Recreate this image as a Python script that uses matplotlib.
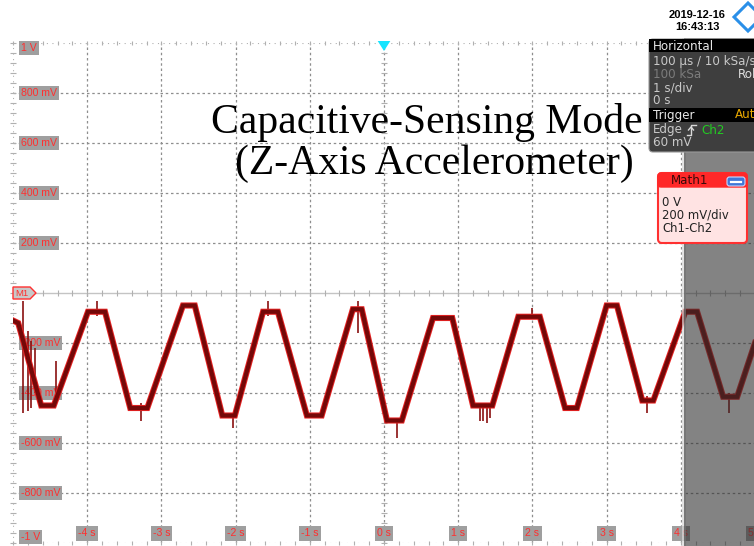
import matplotlib
matplotlib.use("Agg")
import matplotlib.pyplot as plt
import matplotlib.patheffects as pe
from matplotlib.patches import Rectangle, Polygon, FancyBboxPatch
from matplotlib.transforms import Affine2D

# ---- trace data (Math1 = Ch1 - Ch2), vertices of the triangle wave ----
wave_t = [-5.00, -4.93, -4.62, -4.45, -3.99, -3.76, -3.42, -3.19, -2.71, -2.55,
          -2.18, -2.01, -1.63, -1.43, -1.04, -0.84, -0.42, -0.30, 0.04, 0.24,
          0.66, 0.92, 1.20, 1.46, 1.81, 2.10, 2.44, 2.60, 3.00, 3.14,
          3.48, 3.63, 4.06, 4.22, 4.57, 4.76, 5.00]
wave_v = [-0.11, -0.12, -0.45, -0.45, -0.075, -0.075, -0.46, -0.46, -0.05, -0.05,
          -0.49, -0.49, -0.075, -0.075, -0.49, -0.49, -0.065, -0.065, -0.51, -0.51,
          -0.10, -0.10, -0.45, -0.45, -0.095, -0.095, -0.46, -0.46, -0.05, -0.05,
          -0.43, -0.43, -0.075, -0.075, -0.415, -0.415, -0.20]

# glitches on the trace: time, lower and upper voltage
spike_t = [-4.87, -4.80, -4.76, -4.71, -4.42, -3.87, -3.27, -2.04, -1.56, -0.35,
           0.17, 1.30, 1.34, 1.39, 1.43, 2.00, 3.55, 4.65]
spike_lo = [-0.48, -0.47, -0.46, -0.40, -0.40, -0.09, -0.51, -0.54, -0.09, -0.16,
            -0.58, -0.51, -0.51, -0.52, -0.50, -0.10, -0.48, -0.48]
spike_hi = [-0.03, -0.15, -0.19, -0.22, -0.27, -0.03, -0.44, -0.48, -0.03, -0.03,
            -0.52, -0.44, -0.44, -0.44, -0.44, -0.06, -0.41, -0.40]

# ---- axis labels ----
volt_ticks = [1.0, 0.8, 0.6, 0.4, 0.2, -0.2, -0.4, -0.6, -0.8, -1.0]
volt_labels = ["1 V", "800 mV", "600 mV", "400 mV", "200 mV",
               "-200 mV", "-400 mV", "-600 mV", "-800 mV", "-1 V"]
time_ticks = [-4, -3, -2, -1, 0, 1, 2, 3, 4, 5]
time_labels = ["-4 s", "-3 s", "-2 s", "-1 s", "0 s", "1 s", "2 s", "3 s", "4 s", "5 s"]

W, H = 754, 546
fig = plt.figure(figsize=(W / 100, H / 100), dpi=100)
fig.patch.set_facecolor("white")
# pixel (top-left origin) -> figure transform for the instrument chrome
PX = Affine2D().scale(1 / W, -1 / H).translate(0, 1) + fig.transFigure

ax = fig.add_axes([13 / W, 3 / H, 742 / W, 500 / H])
ax.set_xlim(-5, 5)
ax.set_ylim(-1, 1)
ax.axis("off")

grid_col = "#8e8e8e"
for t in range(-4, 5):
    ax.axvline(t, color=grid_col, lw=0.9, ls=(0, (2.0, 2.2)), zorder=1)
for v in [0.8, 0.6, 0.4, 0.2, -0.2, -0.4, -0.6, -0.8]:
    ax.axhline(v, color=grid_col, lw=0.9, ls=(0, (2.0, 2.2)), zorder=1)
ax.axhline(0, color="#c4c4c4", lw=1.0, zorder=1)
for v in (1.0, -1.0):
    ax.axhline(v, color="#b0b0b0", lw=0.8, ls=(0, (1, 4)), zorder=1)
ax.axvline(-5, color="#b0b0b0", lw=0.8, ls=(0, (1, 4)), zorder=1)

# minor ticks along the edges and centre axes
minor_v = [i * 0.04 for i in range(-25, 26)]
minor_t = [i * 0.2 for i in range(-25, 26)]
ax.plot([-5] * len(minor_v), minor_v, ls="none", marker="_", ms=4, mew=0.8,
        color="#b0b0b0", zorder=1, clip_on=False)
ax.plot([0] * len(minor_v), minor_v, ls="none", marker="_", ms=5, mew=0.8,
        color="#b0b0b0", zorder=1)
ax.plot(minor_t, [0] * len(minor_t), ls="none", marker="|", ms=5, mew=0.8,
        color="#b0b0b0", zorder=1)
ax.plot(minor_t, [1.0] * len(minor_t), ls="none", marker="|", ms=3, mew=0.8,
        color="#b0b0b0", zorder=1, clip_on=False)
ax.plot(minor_t, [-1.0] * len(minor_t), ls="none", marker="|", ms=3, mew=0.8,
        color="#b0b0b0", zorder=1, clip_on=False)

label_red = "#ff2f2f"
label_font = "Liberation Sans"
label_box = dict(boxstyle="square,pad=0.2", fc="#9f9f9f", ec="none")
for v, lab in zip(volt_ticks, volt_labels):
    yv = v
    if v == 1.0:
        yv = 0.98
    elif v == -1.0:
        yv = -0.975
    ax.text(-4.895, yv, lab, color=label_red, fontsize=7.6, fontfamily=label_font,
            ha="left", va="center", bbox=label_box, zorder=3, clip_on=False)
for t, lab in zip(time_ticks, time_labels):
    ax.text(t, -0.962, lab, color=label_red, fontsize=7.6, fontfamily=label_font,
            ha="center", va="center", bbox=label_box, zorder=3, clip_on=False)

# M1 reference marker on the 0 V line
m1 = Polygon([(-5.0, 0.024), (-4.77, 0.024), (-4.69, 0.0), (-4.77, -0.024), (-5.0, -0.024)],
             closed=True, fc="#c8c8c8", ec="#ff3030", lw=1.0, zorder=3, clip_on=False)
ax.add_patch(m1)
ax.text(-4.97, 0.0, "M1", color=label_red, fontsize=6.8, fontfamily=label_font,
        ha="left", va="center", zorder=3)

# trigger position marker
ax.add_patch(Polygon([(-0.085, 1.008), (0.085, 1.008), (0.0, 0.968)], closed=True,
                     fc="#16e4ff", ec="none", zorder=3, clip_on=False))

# trace
ax.vlines(spike_t, spike_lo, spike_hi, color="#8a1010", lw=1.2, zorder=4)
ax.plot(wave_t, wave_v, color="#740808", lw=3.0, solid_joinstyle="miter",
        path_effects=[pe.Stroke(linewidth=4.4, foreground="#e62222"), pe.Normal()],
        zorder=5)

# dimmed region past the end of the acquisition
ax.add_patch(Rectangle((4.015, -1.02), 0.06, 2.04, fc="#d8d8d8", ec="none",
                       alpha=0.7, zorder=6, clip_on=False))
ax.add_patch(Rectangle((4.04, -1.02), 1.1, 2.04, fc="#303030", ec="none",
                       alpha=0.6, zorder=6, clip_on=False))

# title
fig.text(427 / W, 1 - 122 / H, "Capacitive-Sensing Mode", fontfamily="Liberation Serif",
         fontsize=30, ha="center", va="center", color="black")
fig.text(434 / W, 1 - 164 / H, "(Z-Axis Accelerometer)", fontfamily="Liberation Serif",
         fontsize=30, ha="center", va="center", color="black")

# date / time and logo
fig.text(697 / W, 1 - 15 / H, "2019-12-16", fontfamily="Liberation Sans", fontweight="bold",
         fontsize=8, ha="center", va="center")
fig.text(697 / W, 1 - 27 / H, "16:43:13", fontfamily="Liberation Sans", fontweight="bold",
         fontsize=8, ha="center", va="center")
fig.add_artist(Polygon([(748, 3), (762, 17), (748, 31), (734, 17)], closed=True,
                       fc="white", ec="#2a8fe8", lw=2.2, transform=PX, zorder=10))
fig.text(745 / W, 1 - 13 / H, "R", color="#2a8fe8", fontsize=6, fontweight="bold",
         rotation=-45, ha="center", va="center")
fig.text(751 / W, 1 - 22 / H, "S", color="#2a8fe8", fontsize=6, fontweight="bold",
         rotation=-45, ha="center", va="center")

# Horizontal / Trigger panel
fig.add_artist(FancyBboxPatch((649, 39), 120, 113, boxstyle="round,pad=0,rounding_size=4",
                              fc="#3e3e3e", ec="#9a9a9a", lw=0.8, transform=PX, zorder=10))
fig.add_artist(Rectangle((649, 39), 120, 13, fc="black", ec="none", transform=PX, zorder=11))
fig.add_artist(Rectangle((649, 108), 120, 14, fc="black", ec="none", transform=PX, zorder=11))
panel_rows = [
    ("Horizontal", 46, "#e8e8e8"),
    ("100 µs / 10 kSa/s", 61, "#c9c9c9"),
    ("100 kSa", 74, "#7c7c7c"),
    ("1 s/div", 88, "#c9c9c9"),
    ("0 s", 101, "#c9c9c9"),
    ("Trigger", 115, "#e8e8e8"),
    ("Edge", 130, "#c9c9c9"),
    ("60 mV", 143, "#c9c9c9"),
]
for txt, yy, col in panel_rows:
    fig.text(653 / W, 1 - yy / H, txt, color=col, fontsize=8.6, ha="left", va="center",
             zorder=12)
fig.text(738 / W, 1 - 74 / H, "Roll", color="#e0e0e0", fontsize=8.6, ha="left",
         va="center", zorder=12)
fig.text(735 / W, 1 - 115 / H, "Auto", color="#e8a800", fontsize=8.6, ha="left",
         va="center", zorder=12)
fig.text(701 / W, 1 - 130 / H, "Ch2", color="#22cc22", fontsize=8.6, ha="left",
         va="center", zorder=12)
# rising-edge symbol
edge_x = [687, 691, 691, 696]
edge_y = [135, 135, 125, 125]
fig.add_artist(plt.Line2D(edge_x, edge_y, color="#d8d8d8", lw=1.0, transform=PX, zorder=12))
fig.add_artist(plt.Line2D([688.5, 691, 693.5], [130, 127, 130], color="#d8d8d8", lw=1.0,
                          transform=PX, zorder=12))

# Math1 channel box
fig.add_artist(FancyBboxPatch((658, 173), 89, 70, boxstyle="round,pad=0,rounding_size=4",
                              fc="#ffe3e3", ec="#ff3030", lw=1.5, transform=PX, zorder=10))
fig.add_artist(FancyBboxPatch((658, 173), 89, 14, boxstyle="round,pad=0,rounding_size=3",
                              fc="#ff2828", ec="#ff2828", lw=1.0, transform=PX, zorder=11))
fig.text(690 / W, 1 - 181 / H, "Math1", color="#3a0a0a", fontsize=8.6, ha="center",
         va="center", zorder=12)
fig.add_artist(FancyBboxPatch((727, 177), 18, 9, boxstyle="round,pad=0,rounding_size=2.5",
                              fc="#3f78d8", ec="#c8d8ff", lw=0.8, transform=PX, zorder=12))
fig.add_artist(plt.Line2D([731, 741], [181.5, 181.5], color="white", lw=1.6, transform=PX,
                          zorder=13))
for txt, yy in [("0 V", 202), ("200 mV/div", 215), ("Ch1-Ch2", 228)]:
    fig.text(662 / W, 1 - yy / H, txt, color="#222222", fontsize=8.4, ha="left",
             va="center", zorder=12)

fig.savefig("out.png", dpi=100)
